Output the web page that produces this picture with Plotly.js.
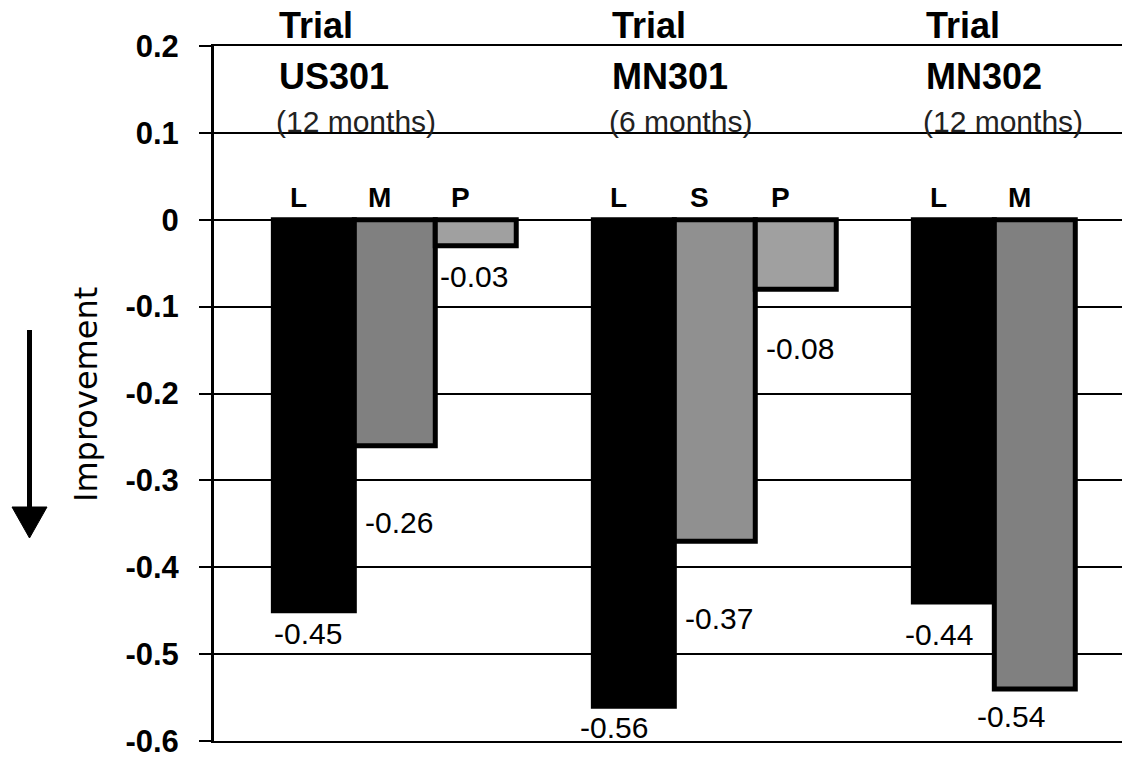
<!DOCTYPE html>
<html><head><meta charset="utf-8">
<script src="https://cdn.plot.ly/plotly-3.0.1.min.js"></script>
<style>html,body{margin:0;padding:0;background:#fff}#chart{width:1122px;height:760px}</style>
</head><body><div id="chart"></div>
<script>
// ---- data ----
const trials = ['US301', 'MN301', 'MN302'];
const durations = ['(12 months)', '(6 months)', '(12 months)'];
const slot1Labels = ['L', 'L', 'L'];
const slot1Values = [-0.45, -0.56, -0.44];
const slot2Labels = ['M', 'S', 'M'];
const slot2Values = [-0.26, -0.37, -0.54];
const slot3Labels = ['P', 'P', ''];
const slot3Values = [-0.03, -0.08, null];
const yTickVals = [0.2, 0.1, 0, -0.1, -0.2, -0.3, -0.4, -0.5, -0.6];
const yTickText = ['0.2', '0.1', '0', '-0.1', '-0.2', '-0.3', '-0.4', '-0.5', '-0.6'];
const axisTitle = 'Improvement';

// ---- styles ----
const slotColors = [
  ['#000000', '#000000', '#000000'],
  ['#808080', '#909090', '#808080'],
  ['#a0a0a0', '#a0a0a0', '#a0a0a0']
];
const W = 1122, H = 760;
const M = {l: 214, r: 0, t: 46, b: 19};
const plotW = W - M.l - M.r, plotH = H - M.t - M.b;
const px = x => (x - M.l) / plotW;          // image px -> paper x
const py = y => (H - M.b - y) / plotH;      // image px -> paper y
const BARGAP = 0.241;
const slotW = (1 - BARGAP) / 3;
const FONT = 'Liberation Sans, Arial, sans-serif';

// label offsets (pixels) for value labels: [xshift, distance below bar end]
const valueLabelShift = [
  [[-6, 23], [-20, 21], [-15, 32]],
  [[4, 77], [4, 77], [-24, 28]],
  [[-2, 31], [4, 59], [0, 0]]
];
const headerShift = [-118, -105, -111];

const slots = [
  {labels: slot1Labels, values: slot1Values},
  {labels: slot2Labels, values: slot2Values},
  {labels: slot3Labels, values: slot3Values}
];

const traces = slots.map((s, k) => ({
  type: 'bar',
  x: trials,
  y: s.values,
  marker: {color: slotColors[k], line: {color: '#000', width: 5}},
  hoverinfo: 'skip',
  showlegend: false
}));

const annotations = [];
trials.forEach((t, i) => {
  annotations.push({xref: 'x', yref: 'paper', x: i, y: py(26), xanchor: 'left', yanchor: 'middle',
    xshift: headerShift[i], text: '<b>Trial</b>', showarrow: false,
    font: {family: FONT, size: 36, color: '#000'}});
  annotations.push({xref: 'x', yref: 'paper', x: i, y: py(77), xanchor: 'left', yanchor: 'middle',
    xshift: headerShift[i], text: '<b>' + t + '</b>', showarrow: false,
    font: {family: FONT, size: 36, color: '#000'}});
  annotations.push({xref: 'x', yref: 'paper', x: i, y: py(121), xanchor: 'left', yanchor: 'middle',
    xshift: headerShift[i] - 3, text: durations[i], showarrow: false,
    font: {family: FONT, size: 30, color: '#222'}});
});
slots.forEach((s, k) => {
  s.values.forEach((v, i) => {
    if (v === null) return;
    const xc = i + (k - 1) * slotW;
    annotations.push({xref: 'x', yref: 'y', x: xc, y: 0, yanchor: 'middle', xanchor: 'center',
      xshift: -15, yshift: 22, text: '<b>' + s.labels[i] + '</b>', showarrow: false,
      font: {family: FONT, size: 28, color: '#000'}});
    const sh = valueLabelShift[k][i];
    annotations.push({xref: 'x', yref: 'y', x: xc, y: v, yanchor: 'middle', xanchor: 'center',
      xshift: sh[0], yshift: -sh[1], text: String(v), showarrow: false,
      font: {family: FONT, size: 30, color: '#000'}});
  });
});
annotations.push({xref: 'paper', yref: 'paper', x: px(86), y: py(395), textangle: -90,
  xanchor: 'center', yanchor: 'middle', text: axisTitle, showarrow: false,
  font: {family: 'DejaVu Sans, sans-serif', size: 32, color: '#000'}});

const shapes = [
  {type: 'line', xref: 'paper', yref: 'paper', x0: px(29.5), x1: px(29.5), y0: py(330), y1: py(512),
    line: {color: '#000', width: 5}},
  {type: 'path', xref: 'paper', yref: 'paper',
    path: `M ${px(12)} ${py(507)} L ${px(47)} ${py(507)} L ${px(29.5)} ${py(538)} Z`,
    fillcolor: '#000', line: {color: '#000', width: 1}}
];

const layout = {
  width: W, height: H,
  margin: M,
  paper_bgcolor: '#fff', plot_bgcolor: '#fff',
  barmode: 'group', bargap: BARGAP, bargroupgap: 0,
  xaxis: {type: 'category', range: [-0.565, 2.2725], showgrid: false, showticklabels: false,
    ticks: '', showline: true, mirror: true, linecolor: '#000', linewidth: 2, zeroline: false, fixedrange: true},
  yaxis: {range: [-0.6, 0.2], tickmode: 'array', tickvals: yTickVals, ticktext: yTickText,
    ticks: 'outside', ticklen: 12, tickwidth: 2, tickcolor: '#000', ticklabelstandoff: 14,
    ticklabeloverflow: 'allow',
    showgrid: true, gridcolor: '#000', gridwidth: 2,
    zeroline: true, zerolinecolor: '#000', zerolinewidth: 2,
    showline: true, linecolor: '#000', linewidth: 3,
    tickfont: {family: FONT, size: 31, weight: 700, color: '#000'}, fixedrange: true},
  annotations: annotations,
  shapes: shapes
};

Plotly.newPlot('chart', traces, layout, {displayModeBar: false, staticPlot: true});
</script>
</body></html>
